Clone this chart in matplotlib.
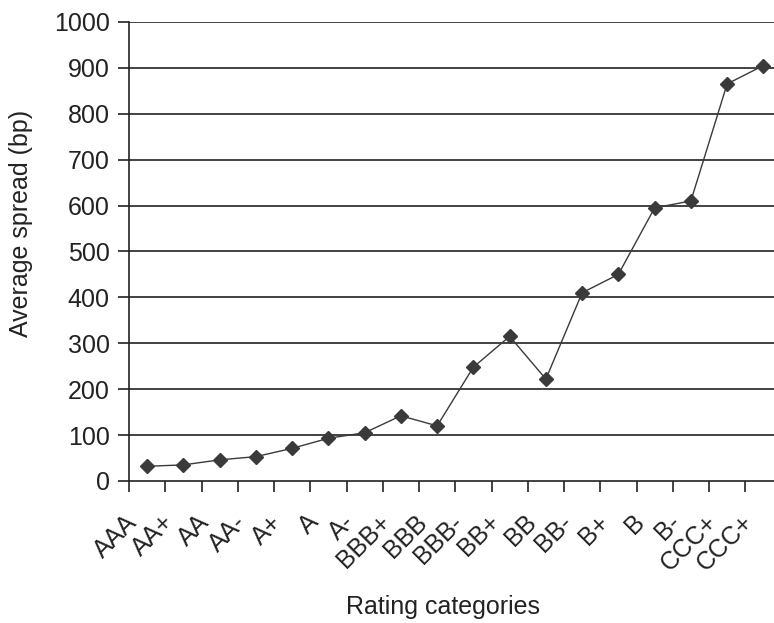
import matplotlib
matplotlib.use("Agg")
import matplotlib.pyplot as plt
import numpy as np

ratings = ["AAA", "AA+", "AA", "AA-", "A+", "A", "A-", "BBB+", "BBB", "BBB-",
           "BB+", "BB", "BB-", "B+", "B", "B-", "CCC+", "CCC+"]
spread = [32, 35, 46, 53, 71, 93, 105, 142, 120, 248,
          315, 222, 410, 450, 595, 610, 865, 905]
y_ticks = list(range(0, 1001, 100))

plt.rcParams["font.family"] = ["Liberation Sans", "DejaVu Sans"]
FS = 18

fig = plt.figure(figsize=(7.74, 6.23), dpi=100)
ax = fig.add_axes([0.1667, 0.228, 0.843, 0.7368])

x = np.arange(len(ratings)) + 0.5
ax.plot(x, spread, color="#3a3a3a", lw=1.0, marker="D", ms=7.5,
        mfc="#3a3a3a", mec="#3a3a3a", zorder=3)

ax.set_xlim(0, len(ratings))
ax.set_ylim(0, 1000)
ax.set_yticks(y_ticks)
ax.set_yticklabels([str(v) for v in y_ticks], fontsize=FS, color="#222")
for v in y_ticks[1:]:
    ax.axhline(v, color="#222", lw=1.2, zorder=1)

# boundaries get tick marks; rotated labels hang a little left of each centre
ax.set_xticks(np.arange(len(ratings) + 1))
ax.set_xticklabels([])
for xi, lab in zip(x, ratings):
    ax.annotate(lab, xy=(xi, 0), xycoords=("data", "axes fraction"),
                xytext=(-16, -21), textcoords="offset points",
                fontsize=FS, rotation=45, ha="right", va="top",
                rotation_mode="anchor", color="#222", annotation_clip=False)
ax.tick_params(axis="x", which="major", direction="out", length=8, width=1.2, color="#222")
ax.tick_params(axis="y", direction="out", length=8, width=1.2, color="#222", pad=6)

for s in ("top", "right"):
    ax.spines[s].set_visible(False)
for s in ("left", "bottom"):
    ax.spines[s].set_linewidth(1.2)
    ax.spines[s].set_color("#222")

fig.text(0.027, 0.642, "Average spread (bp)", fontsize=FS, color="#222",
         rotation=90, ha="center", va="center")
fig.text(0.572, 0.026, "Rating categories", fontsize=FS, color="#222", ha="center", va="center")

fig.savefig("out.png", dpi=100)
